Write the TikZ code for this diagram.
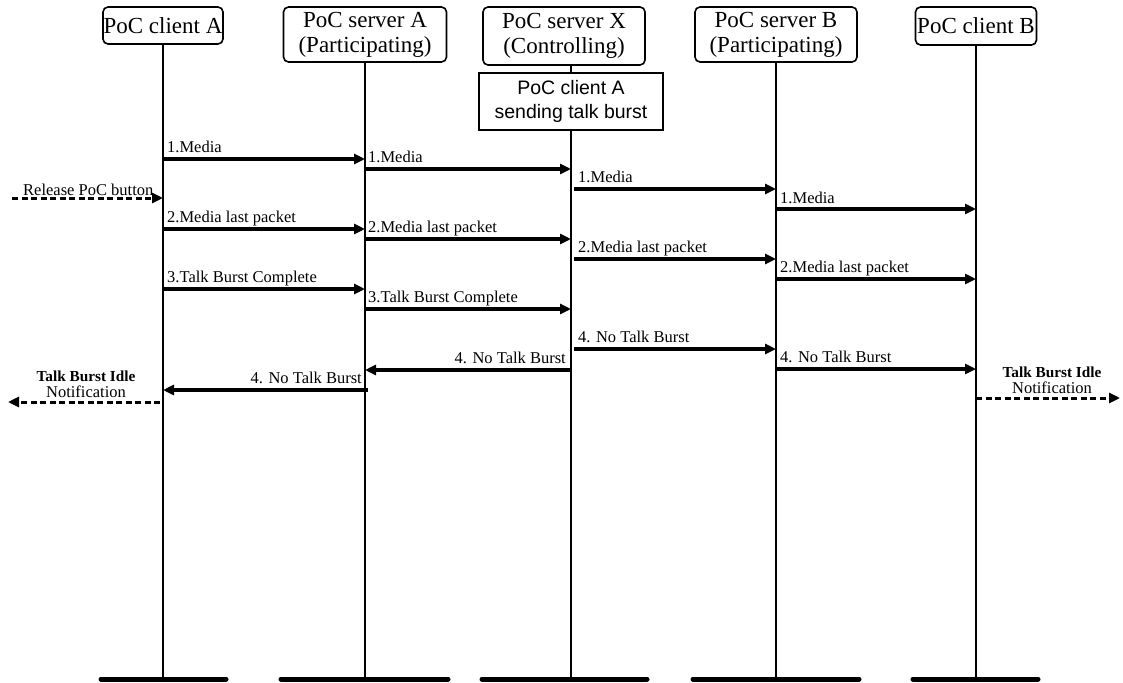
\documentclass[tikz,border=0pt]{standalone}
\usepackage{fontspec}
\setmainfont{Liberation Serif}
\newfontfamily\arialf{Liberation Sans}
\usetikzlibrary{arrows.meta}
\begin{document}
\begin{tikzpicture}[x=1pt,y=-1pt,
  hdr/.style={draw, line width=1.6pt, rounded corners=5pt, align=center, inner sep=0pt,
    font=\fontsize{23}{25}\selectfont},
  statebox/.style={draw, line width=1.2pt, align=center, inner sep=0pt,
    font=\arialf\fontsize{19.5}{24}\selectfont},
  life/.style={line width=1.8pt},
  bar/.style={line width=5pt, line cap=round},
  msg/.style={line width=3.2pt, -{Triangle[length=11pt,width=10pt]}},
  dsh/.style={line width=3pt, dash pattern=on 6pt off 3.5pt, -{Triangle[length=11pt,width=10pt]}},
  lbl/.style={font=\fontsize{16.5}{19}\selectfont, inner sep=0pt},
  blbl/.style={font=\bfseries\fontsize{15.3}{18}\selectfont, inner sep=0pt},
]
\useasboundingbox (0,0) rectangle (1123,682);

% headers
\node[hdr, minimum width=120pt, minimum height=37pt] (ca) at (163,25.5) {PoC client A};
\node[hdr, minimum width=163pt, minimum height=55pt] (sa) at (365,34.5) {PoC server A\\(Participating)};
\node[hdr, minimum width=162pt, minimum height=58pt] (sx) at (564,36) {PoC server X\\(Controlling)};
\node[hdr, minimum width=162pt, minimum height=55pt] (sb) at (776,34.5) {PoC server B\\(Participating)};
\node[hdr, minimum width=121pt, minimum height=38pt] (cb) at (976,26) {PoC client B};
\node[statebox, minimum width=184pt, minimum height=57pt] (st) at (571,101.5) {PoC client A\\sending talk burst};

% lifeline bottoms
\coordinate (cab) at (163,677);
\coordinate (sab) at (365,677);
\coordinate (sxb) at (571,677);
\coordinate (sbb) at (776,677);
\coordinate (cbb) at (976,677);

% lifelines
\draw[life] (ca) -- (cab);
\draw[life] (sa) -- (sab);
\draw[life] (sx.south -| st) -- (st.north);
\draw[life] (st) -- (sxb);
\draw[life] (sb) -- (sbb);
\draw[life] (cb) -- (cbb);

% bottom bars
\draw[bar] (101,679) -- (226,679);
\draw[bar] (281,679) -- (448,679);
\draw[bar] (482,679) -- (647,679);
\draw[bar] (693,679) -- (859,679);
\draw[bar] (913,679) -- (1038,679);

% free ends
\coordinate (relL) at (12,198);
\coordinate (idleL) at (8,402);
\coordinate (idleR) at (1120,398);

% 1. Media
\draw[msg] (cab |- 0,159) -- (sab |- 0,159);
\node[lbl, anchor=base west] (m1a) at (167,152) {1.Media};
\draw[msg] (sab |- 0,169) -- (sxb |- 0,169);
\node[lbl, anchor=base west] (m1b) at (368,162) {1.Media};
\draw[msg] ([xshift=3pt]sxb |- 0,189) -- (sbb |- 0,189);
\node[lbl, anchor=base west] (m1c) at (578,182) {1.Media};
\draw[msg] (sbb |- 0,209) -- (cbb |- 0,209);
\node[lbl, anchor=base west] (m1d) at (780,203) {1.Media};

% Release
\draw[dsh] (relL) -- (cab |- relL);
\node[lbl, anchor=base west] (rel) at (23,195) {Release PoC button};

% 2. Media last packet
\draw[msg] (cab |- 0,229) -- (sab |- 0,229);
\node[lbl, anchor=base west] (m2a) at (167,222) {2.Media last packet};
\draw[msg] (sab |- 0,239) -- (sxb |- 0,239);
\node[lbl, anchor=base west] (m2b) at (368,232) {2.Media last packet};
\draw[msg] ([xshift=3pt]sxb |- 0,259) -- (sbb |- 0,259);
\node[lbl, anchor=base west] (m2c) at (578,252) {2.Media last packet};
\draw[msg] (sbb |- 0,279) -- (cbb |- 0,279);
\node[lbl, anchor=base west] (m2d) at (780,272) {2.Media last packet};

% 3. Talk Burst Complete
\draw[msg] (cab |- 0,289) -- (sab |- 0,289);
\node[lbl, anchor=base west] (m3a) at (167,282) {3.Talk Burst Complete};
\draw[msg] (sab |- 0,309) -- (sxb |- 0,309);
\node[lbl, anchor=base west] (m3b) at (368,302) {3.Talk Burst Complete};

% 4. No Talk Burst
\draw[msg] ([xshift=3pt]sxb |- 0,349) -- (sbb |- 0,349);
\node[lbl, anchor=base west] (m4c) at (578,342) {4. No Talk Burst};
\draw[msg] (sbb |- 0,369) -- (cbb |- 0,369);
\node[lbl, anchor=base west] (m4d) at (780,362) {4. No Talk Burst};
\draw[msg] ([xshift=-1pt]sxb |- 0,370) -- (sab |- 0,370);
\node[lbl, anchor=base east] (m4b) at (566,363) {4. No Talk Burst};
\draw[msg] ([xshift=3pt]sab |- 0,390) -- (cab |- 0,390);
\node[lbl, anchor=base east] (m4a) at (362,383) {4. No Talk Burst};

% idle notifications
\draw[dsh] ([xshift=-3pt]cab |- idleL) -- (idleL);
\node[blbl, anchor=base] (ilA) at (86,381) {Talk Burst Idle};
\node[lbl, anchor=base] (inA) at (86,397) {Notification};
\draw[dsh] (cbb |- idleR) -- (idleR);
\node[blbl, anchor=base] (ilB) at (1052,377) {Talk Burst Idle};
\node[lbl, anchor=base] (inB) at (1052,393) {Notification};
\end{tikzpicture}
\end{document}
